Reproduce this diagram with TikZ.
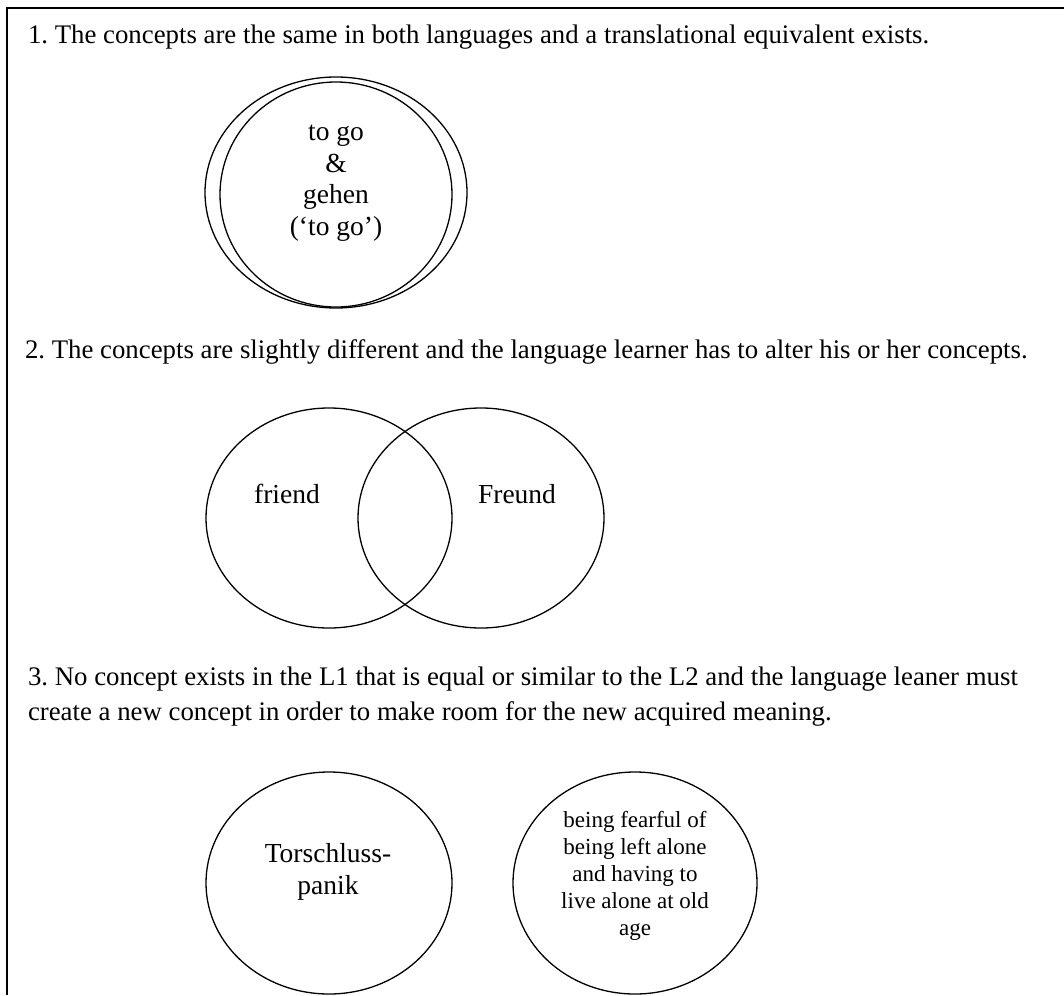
\documentclass[tikz,border=0pt]{standalone}
\usepackage{fontspec}
\setmainfont{Liberation Serif}
\usetikzlibrary{shapes.geometric}
\frenchspacing

\begin{document}
\begin{tikzpicture}[
    x=1pt, y=-1pt,
    every node/.style={inner sep=0pt, outer sep=0pt},
    case/.style={anchor=base west, align=left, font=\fontsize{26.8}{35}\selectfont},
    concept/.style={draw, ellipse, line width=1.3pt, minimum width=#1},
    word/.style={align=center, font=\fontsize{27.5}{31.5}\selectfont},
    gloss/.style={align=center, font=\fontsize{23}{27}\selectfont},
  ]
  \useasboundingbox (0,0) rectangle (1064,995);
  \draw[line width=2.2pt] (7,995) -- (7,8) -- (1064,8);

  % 1. same concept
  \node[case] (C1) at (28,44)
    {1. The concepts are the same in both languages and a translational equivalent exists.};
  \node[concept=262pt, minimum height=231pt] (G1) at (336,192.5) {};
  \node[concept=232pt, minimum height=225pt] (G2) at (336,194.5) {};
  \node[word] (W1) at (336,183) {to go\\ \&\\ gehen\\ (`to go')};

  % 2. overlapping concepts
  \node[case] (C2) at (25,358)
    {2. The concepts are slightly different and the language learner has to alter his or her concepts.};
  \node[concept=246pt, minimum height=220pt] (F1) at (329,518) {};
  \node[concept=246pt, minimum height=220pt] (F2) at (481,518) {};
  \node[word, anchor=base] (W2) at (287,503) {friend};
  \node[word, anchor=base] (W3) at (517,503) {Freund};

  % 3. new concept
  \node[case] (C3) at (28,720)
    {3. No concept exists in the L1 that is equal or similar to the L2 and the language leaner must\\
     create a new concept in order to make room for the new acquired meaning.};
  \node[concept=246pt, minimum height=222pt] (T1) at (329,883) {};
  \node[concept=244pt, minimum height=222pt] (T2) at (635,883) {};
  \node[word] (W4) at (328,872) {Torschluss-\\ panik};
  \node[gloss] (W5) at (635,876)
    {being fearful of\\ being left alone\\ and having to\\ live alone at old\\ age};
\end{tikzpicture}
\end{document}
